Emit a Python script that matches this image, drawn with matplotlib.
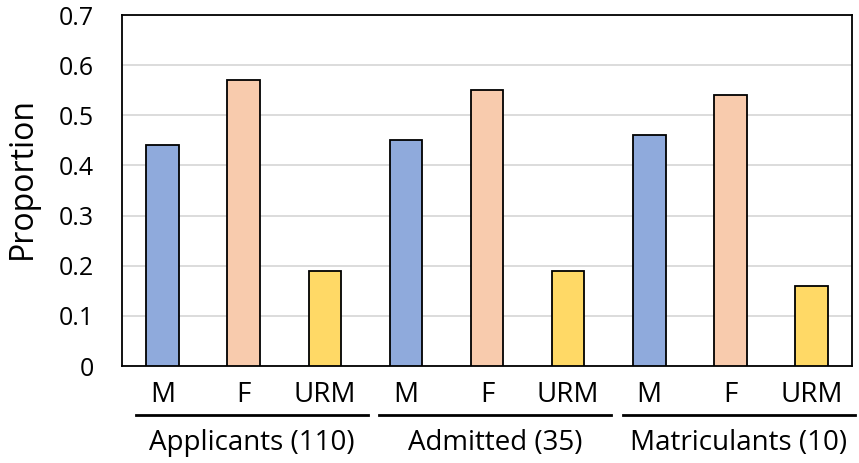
import numpy as np
import matplotlib.pyplot as plt

plt.rcParams['font.family'] = ['Open Sans', 'DejaVu Sans']

# data
groups = ['Applicants (110)', 'Admitted (35)', 'Matriculants (10)']
subs = ['M', 'F', 'URM']
values = [
    [0.44, 0.57, 0.19],
    [0.45, 0.55, 0.19],
    [0.46, 0.54, 0.16],
]
colors = ['#8FAADC', '#F8CBAD', '#FFD966']

fig = plt.figure(figsize=(8.59, 4.63), dpi=100)
ax = fig.add_axes([0.142, 0.2095, 0.85, 0.758])

x = np.arange(9)
heights = [v for g in values for v in g]
bar_cols = colors * 3
ax.bar(x, heights, width=0.4, color=bar_cols, edgecolor='black', linewidth=1.3, zorder=3)

ax.set_xlim(-0.5, 8.5)
ax.set_ylim(0, 0.7)
ax.set_yticks(np.arange(0, 0.71, 0.1))
ax.set_yticklabels(['0'] + ['%.1f' % t for t in np.arange(0.1, 0.71, 0.1)])
ax.yaxis.grid(True, color='#D9D9D9', linewidth=1.3, zorder=0)
ax.set_xticks(x)
ax.set_xticklabels(subs * 3)
ax.tick_params(axis='both', length=0)
ax.tick_params(axis='y', labelsize=18, pad=20)
ax.tick_params(axis='x', labelsize=20, pad=11)
for s in ax.spines.values():
    s.set_linewidth(1.3)

ax.set_ylabel('Proportion', fontsize=23)
ax.yaxis.set_label_coords(-0.137, 0.535)
ax.yaxis.label.set_va('center')

# group separators and labels
tr = ax.get_xaxis_transform()
for i, g in enumerate(groups):
    x0, x1 = i * 3 - 0.33, i * 3 + 2.53
    ax.plot([x0, x1], [-0.14, -0.14], color='black',
            linewidth=2, transform=tr, clip_on=False)
    ax.text((x0 + x1) / 2, -0.22, g, transform=tr, ha='center', va='center', fontsize=20)

fig.savefig('out.png', dpi=100)
